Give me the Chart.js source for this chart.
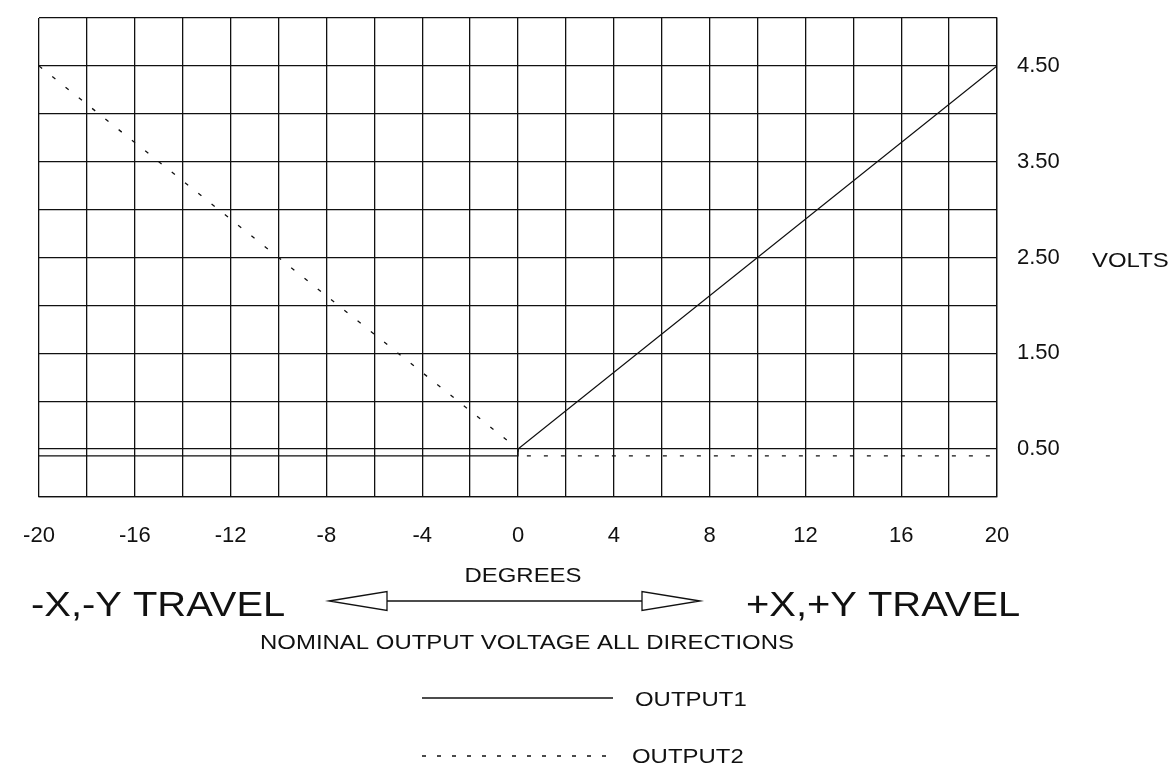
<!DOCTYPE html>
<html>
<head>
<meta charset="utf-8">
<script src="https://cdn.jsdelivr.net/npm/chart.js@4"></script>
<style>
  html, body { margin: 0; padding: 0; background: #fff; }
  #wadah { width: 1171px; height: 771px; }
</style>
</head>
<body>
<div id="wadah"><canvas id="grafikTegangan"></canvas></div>
<script>
// Data (derajat vs volt)
const derajatOutput1 = [-20, 0, 0, 20];
const voltOutput1 = [0.43, 0.43, 0.5, 4.5];
const derajatOutput2 = [-20, 0, 0, 20];
const voltOutput2 = [4.5, 0.5, 0.43, 0.43];

// Garis grid dan label sumbu
const tickDerajat = [-20, -18, -16, -14, -12, -10, -8, -6, -4, -2, 0, 2, 4, 6, 8, 10, 12, 14, 16, 18, 20];
const labelDerajat = ["-20", "-16", "-12", "-8", "-4", "0", "4", "8", "12", "16", "20"];
const tickVolt = [0, 0.5, 1, 1.5, 2, 2.5, 3, 3.5, 4, 4.5, 5];
const labelVolt = ["0.50", "1.50", "2.50", "3.50", "4.50"];

const hitam = "#111";
const hurufDasar = "Arial, 'Liberation Sans', sans-serif";

function gabungTitik(xs, ys) {
  return xs.map((x, i) => ({ x, y: ys[i] }));
}

// Teks agak melebar seperti di gambar asli
function tulisLebar(c, teks, x, y, ukuran, rata) {
  const regang = 1.14;
  c.save();
  c.font = ukuran + "px " + hurufDasar;
  c.textBaseline = "middle";
  c.textAlign = "left";
  const lebar = c.measureText(teks).width * regang;
  let kiri = x;
  if (rata === "center") kiri = x - lebar / 2;
  c.translate(kiri, y);
  c.scale(regang, 1);
  c.fillText(teks, 0, 0);
  c.restore();
}

// Plugin untuk teks di bawah grafik, panah dan legenda
const teksBawah = {
  id: "teksBawah",
  afterDraw(chart) {
    const c = chart.ctx;
    c.save();
    c.fillStyle = hitam;
    c.strokeStyle = hitam;

    tulisLebar(c, "DEGREES", 523, 576, 21, "center");
    tulisLebar(c, "NOMINAL OUTPUT VOLTAGE ALL DIRECTIONS", 527, 643, 21, "center");
    tulisLebar(c, "-X,-Y TRAVEL", 31, 606, 35, "left");
    tulisLebar(c, "+X,+Y TRAVEL", 746, 606, 35, "left");
    tulisLebar(c, "VOLTS", 1092, 261, 21, "left");

    // panah dua arah
    c.lineWidth = 1.3;
    c.beginPath();
    c.moveTo(387, 601);
    c.lineTo(642, 601);
    c.stroke();
    c.beginPath();
    c.moveTo(329, 601);
    c.lineTo(387, 591.5);
    c.lineTo(387, 610.5);
    c.closePath();
    c.stroke();
    c.beginPath();
    c.moveTo(700, 601);
    c.lineTo(642, 591.5);
    c.lineTo(642, 610.5);
    c.closePath();
    c.stroke();

    // legenda
    const ds = chart.data.datasets;
    c.lineWidth = 1.3;
    c.beginPath();
    c.moveTo(422, 698);
    c.lineTo(613, 698);
    c.stroke();
    tulisLebar(c, ds[0].label, 635, 700, 21, "left");

    c.setLineDash([4, 11]);
    c.beginPath();
    c.moveTo(422, 756);
    c.lineTo(613, 756);
    c.stroke();
    c.setLineDash([]);
    tulisLebar(c, ds[1].label, 632, 757, 21, "left");
    c.restore();
  }
};

const ctx = document.getElementById("grafikTegangan").getContext("2d");
new Chart(ctx, {
  type: "scatter",
  data: {
    datasets: [
      {
        label: "OUTPUT1",
        data: gabungTitik(derajatOutput1, voltOutput1),
        showLine: true,
        borderColor: hitam,
        borderWidth: 1.3,
        pointRadius: 0,
        tension: 0
      },
      {
        label: "OUTPUT2",
        data: gabungTitik(derajatOutput2, voltOutput2),
        showLine: true,
        borderColor: hitam,
        borderWidth: 1.3,
        borderDash: [4, 13],
        pointRadius: 0,
        tension: 0
      }
    ]
  },
  options: {
    responsive: true,
    maintainAspectRatio: false,
    animation: false,
    layout: { padding: { left: 39, top: 18, right: 0, bottom: 0 } },
    plugins: {
      legend: { display: false },
      tooltip: { enabled: false }
    },
    scales: {
      x: {
        type: "linear",
        min: -20,
        max: 20,
        afterBuildTicks: (s) => { s.ticks = tickDerajat.map(v => ({ value: v })); },
        afterFit: (s) => { s.height = 274; s.paddingLeft = 0; s.paddingRight = 0; },
        grid: { color: hitam, lineWidth: 1.3, drawTicks: false },
        border: { color: hitam, width: 1.3 },
        ticks: {
          padding: 26,
          maxRotation: 0,
          autoSkip: false,
          color: hitam,
          font: { size: 22, family: hurufDasar },
          callback: (v) => labelDerajat.includes(String(v)) ? String(v) : ""
        }
      },
      y: {
        type: "linear",
        position: "right",
        min: 0,
        max: 5,
        afterBuildTicks: (s) => { s.ticks = tickVolt.map(v => ({ value: v })); },
        afterFit: (s) => { s.width = 174; s.paddingTop = 0; s.paddingBottom = 0; },
        grid: { color: hitam, lineWidth: 1.3, drawTicks: false },
        border: { color: hitam, width: 1.3 },
        ticks: {
          padding: 20,
          autoSkip: false,
          color: hitam,
          font: { size: 22, family: hurufDasar },
          callback: (v) => labelVolt.includes(v.toFixed(2)) ? v.toFixed(2) : ""
        }
      }
    }
  },
  plugins: [teksBawah]
});
</script>
</body>
</html>
